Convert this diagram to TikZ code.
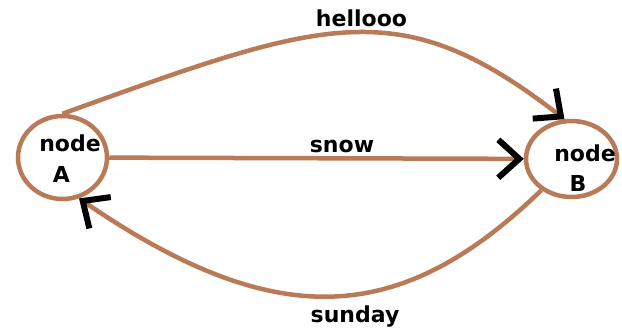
\documentclass[tikz,border=0pt]{standalone}
\usepackage{fontspec}
\setmainfont{DejaVu Sans}
\usepackage{tikz}
\usetikzlibrary{arrows.meta,shapes.geometric}
\definecolor{paintbrown}{RGB}{185,122,87}
\tikzset{
  state/.style={draw=paintbrown, ellipse, line width=4.5pt, inner sep=0pt},
  lbl/.style={font=\bfseries\fontsize{22}{26}\selectfont, inner sep=0pt, anchor=base},
  edge/.style={draw=paintbrown, line width=4.5pt, -{Straight Barb[color=black, length=21pt, width=38pt, line width=6pt]}}
}

\begin{document}
\begin{tikzpicture}[x=1pt,y=1pt]
\useasboundingbox (0,0) rectangle (622,329);
\node[state, minimum width=89pt, minimum height=83pt] (A) at (62.5,171.5) {};
\node[state, minimum width=91pt, minimum height=76pt] (B) at (571.5,170) {};
\node[lbl] (Aword) at (70,177) {node};
\node[lbl] (Aname) at (61.5,146) {A};
\node[lbl] (Bword) at (585,167) {node};
\node[lbl] (Bname) at (578,137) {B};

\node[lbl] (hello) at (361.5,302) {hellooo};
\node[lbl] (snow) at (342,176) {snow};
\node[lbl] (sun) at (355,6) {sunday};

\draw[edge] (A) -- (B);
\draw[edge] (A.north) .. controls (325,310) and (399,338) .. (B.100);
\draw[edge] (B.226) .. controls (400,2) and (276,-4) .. (A.292);
\end{tikzpicture}
\end{document}
